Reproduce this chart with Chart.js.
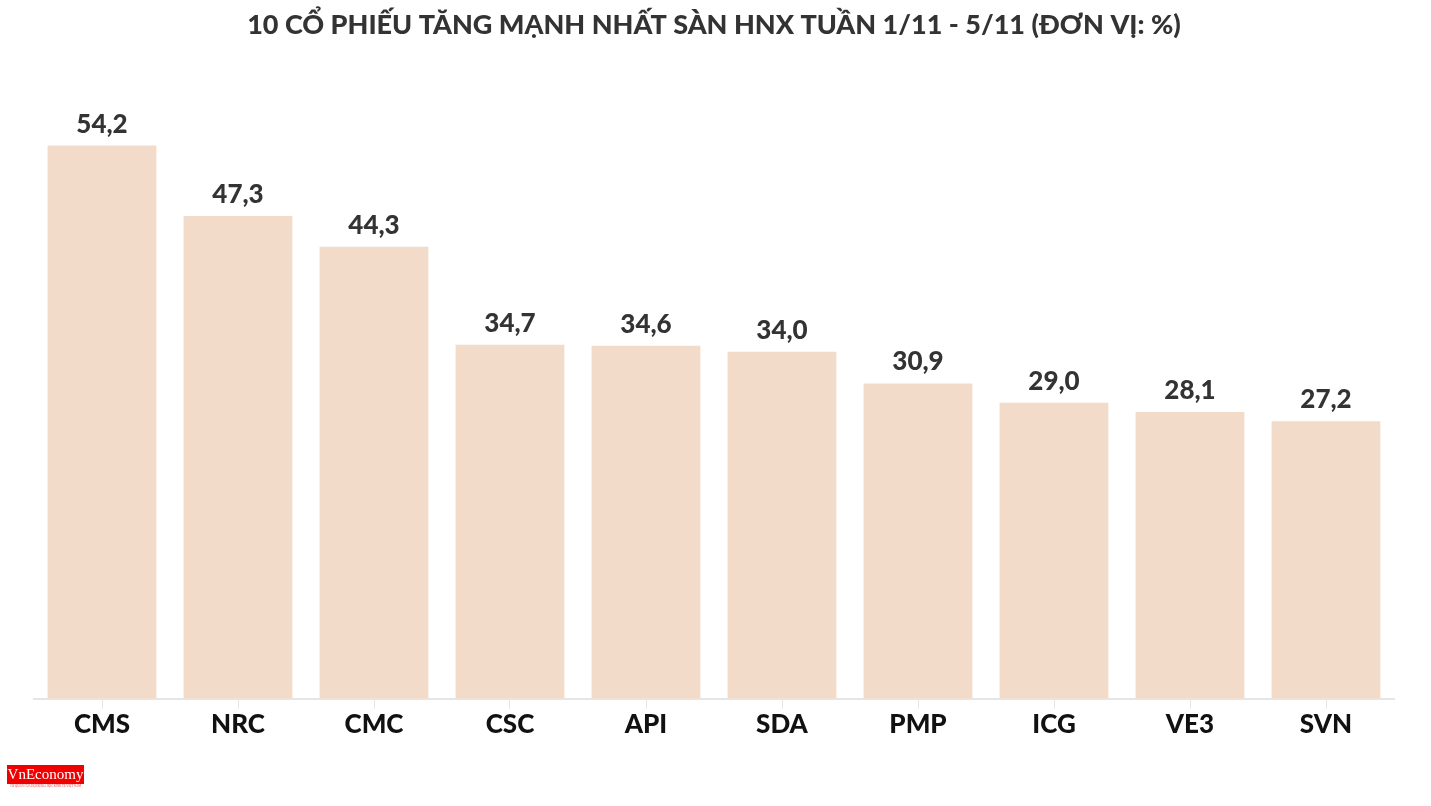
<!DOCTYPE html>
<html><head><meta charset="utf-8">
<script src="https://cdn.jsdelivr.net/npm/chart.js@4/dist/chart.umd.min.js"></script>
<style>
html,body{margin:0;padding:0;background:#fff;width:1431px;height:806px;overflow:hidden}
#wrap{position:absolute;left:0;top:0;width:1431px;height:806px}
#logo{position:absolute;left:7px;top:765px;width:77px;height:22px;background:#f00000;color:#fff;font-family:"Liberation Serif",serif;font-size:15px;line-height:18px;text-align:center;}
#logo small{position:absolute;left:0;top:19px;width:77px;font-size:3px;color:#e33;line-height:4px;background:#fff}
</style></head>
<body>
<div id="wrap"><canvas id="c" width="1431" height="806"></canvas></div>
<div id="logo">VnEconomy<small>CƠ QUAN CỦA HỘI KHOA HỌC KINH TẾ VIỆT NAM</small></div>
<script>
const titleText = "10 CỔ PHIẾU TĂNG MẠNH NHẤT SÀN HNX TUẦN 1/11 - 5/11 (ĐƠN VỊ: %)";
const categories = ["CMS","NRC","CMC","CSC","API","SDA","PMP","ICG","VE3","SVN"];
const values = [54.2,47.3,44.3,34.7,34.6,34.0,30.9,29.0,28.1,27.2];

const FONT = "Lato, 'Source Sans Pro', sans-serif";

const valueLabels = {
  id:'valueLabels',
  afterDatasetsDraw(chart){
    const ctx = chart.ctx;
    const meta = chart.getDatasetMeta(0);
    ctx.save();
    ctx.font = "900 26px " + FONT;
    ctx.fillStyle = "#333333";
    ctx.textAlign = "center";
    ctx.textBaseline = "alphabetic";
    meta.data.forEach((bar,i)=>{
      const txt = values[i].toFixed(1).replace('.',',');
      ctx.fillText(txt, bar.x, bar.y - 13);
    });
    ctx.restore();
  }
};

new Chart(document.getElementById('c'), {
  type:'bar',
  data:{
    labels:categories,
    datasets:[{
      data:values,
      backgroundColor:'#f2dbc9',
      borderWidth:0,
      categoryPercentage:0.8,
      barPercentage:1.0
    }]
  },
  options:{
    responsive:false,
    animation:false,
    devicePixelRatio:1,
    layout:{padding:{left:34,right:37,top:0,bottom:66}},
    plugins:{
      legend:{display:false},
      tooltip:{enabled:false},
      title:{
        display:true,
        text:titleText,
        color:'#333333',
        font:{family:FONT,size:27,weight:'900'},
        padding:{top:9,bottom:45}
      }
    },
    scales:{
      x:{
        grid:{display:true,drawOnChartArea:false,drawTicks:true,tickLength:10,color:'#e6e6e6',offset:false},
        border:{display:true,color:'#e6e6e6',width:2},
        ticks:{color:'#111111',font:{family:FONT,size:26,weight:'900'},padding:0,maxRotation:0}
      },
      y:{
        display:false,
        min:0,max:60
      }
    }
  },
  plugins:[valueLabels]
});
</script>
</body></html>
